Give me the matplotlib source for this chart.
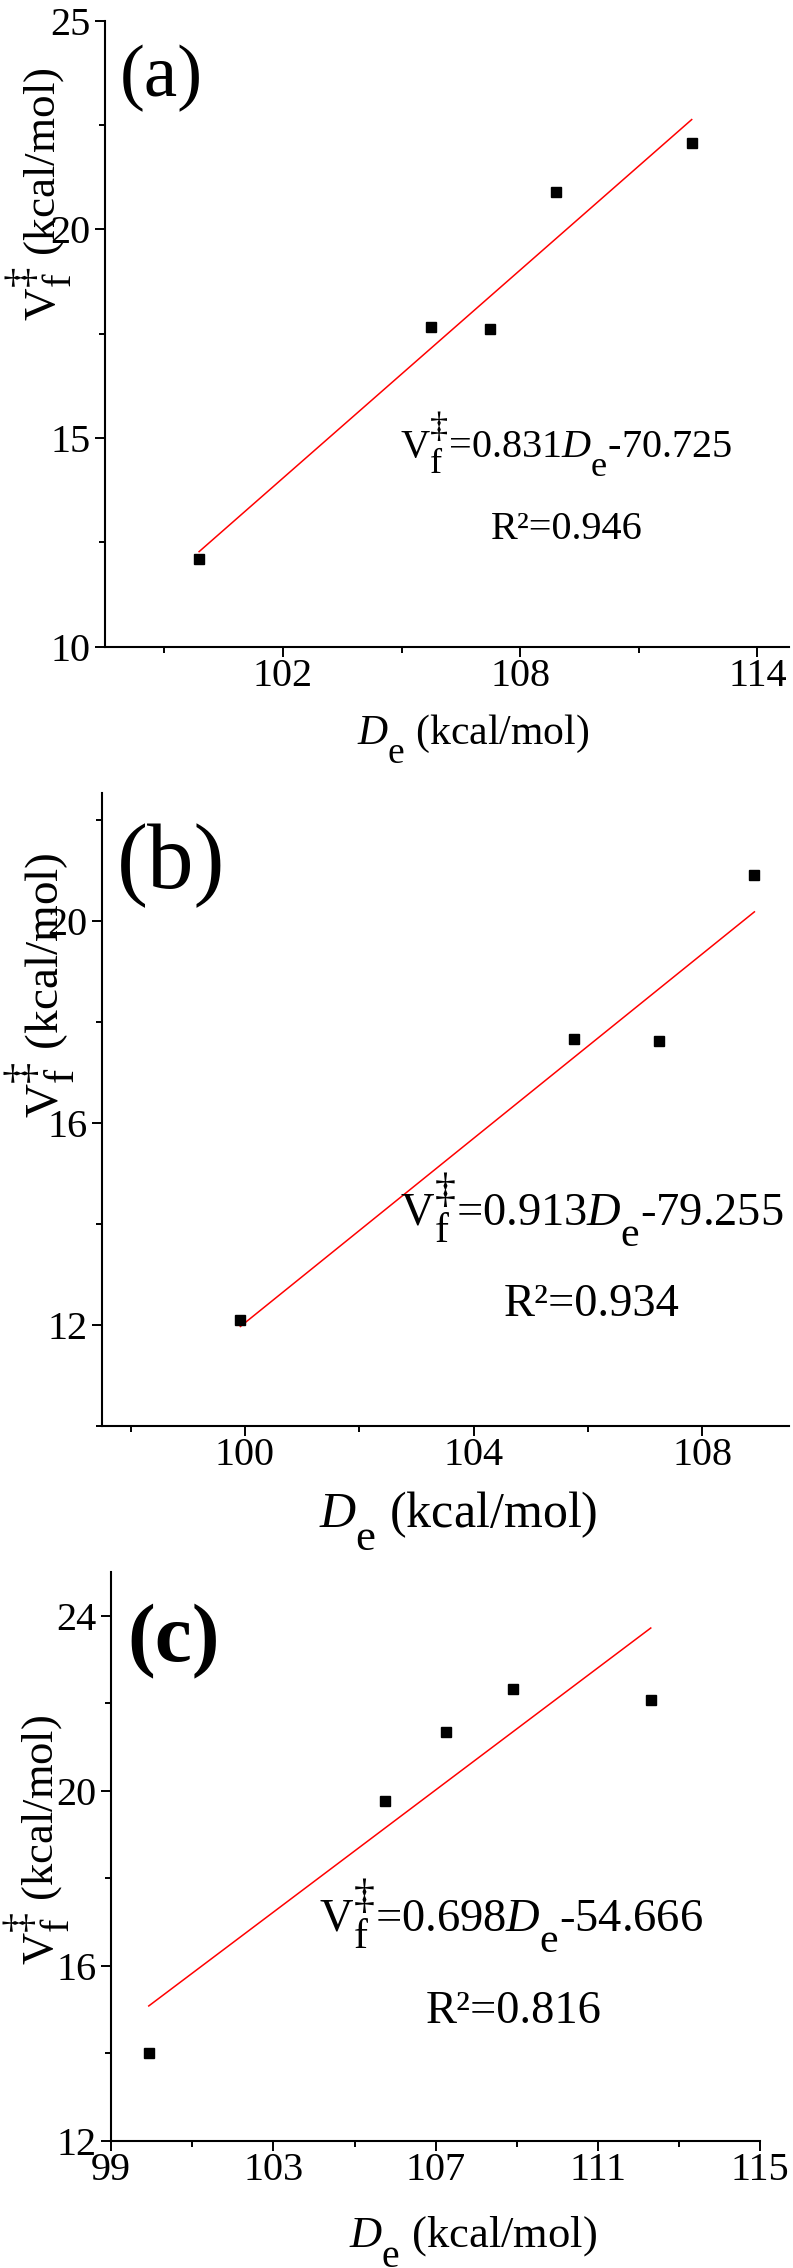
import matplotlib
matplotlib.use("Agg")
import matplotlib.pyplot as plt
from matplotlib.ticker import FixedLocator
import matplotlib._mathtext as _mt

# larger, lower sub/superscripts, closer to the reference typesetting
_mt.SHRINK_FACTOR = 0.9
_mt.FontConstantsBase.sub1 = 1.0
_mt.FontConstantsBase.sub2 = 0.8

plt.rcParams['font.family'] = ['Liberation Serif', 'DejaVu Serif']
plt.rcParams['mathtext.fontset'] = 'custom'
plt.rcParams['mathtext.rm'] = 'Liberation Serif'
plt.rcParams['mathtext.it'] = 'Liberation Serif:italic'
plt.rcParams['mathtext.bf'] = 'Liberation Serif:bold'

# ---------------- data ----------------
a_x = [99.88, 105.75, 107.24, 108.91, 112.34]
a_y = [12.09, 17.67, 17.61, 20.89, 22.07]
a_fit = (0.831, -70.725)
a_eq = r'$\mathrm{V}_\mathrm{f}^{\ddagger}$=0.831$D_\mathrm{e}$-70.725'
a_r2 = 'R²=0.946'
a_xticks = [102, 108, 114]
a_xminor = [99, 105, 111]
a_yticks = [10, 15, 20, 25]
a_yminor = [12.5, 17.5, 22.5]

b_x = [99.92, 105.75, 107.25, 108.91]
b_y = [12.10, 17.66, 17.63, 20.91]
b_fit = (0.913, -79.255)
b_eq = r'$\mathrm{V}_\mathrm{f}^{\ddagger}$=0.913$D_\mathrm{e}$-79.255'
b_r2 = 'R²=0.934'
b_xticks = [100, 104, 108]
b_xminor = [98, 102, 106]
b_yticks = [12, 16, 20]
b_yminor = [10, 14, 18, 22]

c_x = [99.93, 105.75, 107.25, 108.91, 112.30]
c_y = [14.02, 19.77, 21.34, 22.33, 22.07]
c_fit = (0.698, -54.666)
c_eq = r'$\mathrm{V}_\mathrm{f}^{\ddagger}$=0.698$D_\mathrm{e}$-54.666'
c_r2 = 'R²=0.816'
c_xticks = [99, 103, 107, 111, 115]
c_xminor = [101, 105, 109, 113]
c_yticks = [12, 16, 20, 24]
c_yminor = [14, 18, 22]

panel_labels = ['(a)', '(b)', '(c)']
xlabel_text = r'$D_\mathrm{e}$ (kcal/mol)'
ylabel_text = r'$\mathrm{V}_\mathrm{f}^{\ddagger}$ (kcal/mol)'

# ---------------- layout ----------------
fig = plt.figure(figsize=(7.93, 22.68), dpi=100)

panels = [
    dict(x=a_x, y=a_y, fit=a_fit, eq=a_eq, r2=a_r2, xt=a_xticks, xm=a_xminor,
         yt=a_yticks, ym=a_yminor, rect=[0.1324, 0.7149, 0.8625, 0.2760],
         xlim=(97.5, 114.8), ylim=(10, 25),
         eqpos=(109.17, 14.51), r2pos=(109.17, 12.59), eqsize=29,
         lab=(0.083, 0.908), labsize=54, labweight='normal',
         xl=(0.538, -0.105), xlsize=30, yl=(-0.096, 0.722), ylsize=32.5),
    dict(x=b_x, y=b_y, fit=b_fit, eq=b_eq, r2=b_r2, xt=b_xticks, xm=b_xminor,
         yt=b_yticks, ym=b_yminor, rect=[0.1286, 0.3712, 0.8667, 0.2791],
         xlim=(97.5, 109.52), ylim=(10, 22.53),
         eqpos=(106.07, 13.97), r2pos=(106.07, 12.17), eqsize=33.5,
         lab=(0.100, 0.885), labsize=67, labweight='normal',
         xl=(0.519, -0.100), xlsize=36, yl=(-0.090, 0.697), ylsize=34),
    dict(x=c_x, y=c_y, fit=c_fit, eq=c_eq, r2=c_r2, xt=c_xticks, xm=c_xminor,
         yt=c_yticks, ym=c_yminor, rect=[0.1400, 0.0560, 0.8188, 0.2509],
         xlim=(99, 115), ylim=(12, 25),
         eqpos=(108.85, 16.78), r2pos=(108.91, 14.70), eqsize=33.5,
         lab=(0.097, 0.8775), labsize=60, labweight='bold',
         xl=(0.557, -0.128), xlsize=32, yl=(-0.114, 0.529), ylsize=32),
]

for p, plab in zip(panels, panel_labels):
    ax = fig.add_axes(p['rect'])
    ax.set_xlim(*p['xlim'])
    ax.set_ylim(*p['ylim'])
    ax.plot(p['x'], p['y'], linestyle='none', marker='s', ms=7, color='black',
            zorder=3, clip_on=False)
    k, b0 = p['fit']
    xs = [min(p['x']), max(p['x'])]
    ax.plot(xs, [k * xs[0] + b0, k * xs[1] + b0], color='#ff0000', lw=1.1,
            zorder=2)

    for side in ['top', 'right']:
        ax.spines[side].set_visible(False)
    for side in ['left', 'bottom']:
        ax.spines[side].set_linewidth(1.5)

    ax.set_xticks(p['xt'])
    ax.set_xticklabels([str(v) for v in p['xt']])
    ax.set_yticks(p['yt'])
    ax.set_yticklabels([str(v) for v in p['yt']])
    ax.xaxis.set_minor_locator(FixedLocator(p['xm']))
    ax.yaxis.set_minor_locator(FixedLocator(p['ym']))
    ax.tick_params(which='major', direction='out', length=7.5, width=1.4,
                   labelsize=29)
    ax.tick_params(axis='x', which='major', pad=0.5)
    ax.tick_params(axis='y', which='major', pad=3)
    ax.tick_params(which='minor', direction='out', length=4, width=1.4)

    ax.text(p['eqpos'][0], p['eqpos'][1], p['eq'], ha='center', va='baseline',
            fontsize=p['eqsize'])
    ax.text(p['r2pos'][0], p['r2pos'][1], p['r2'], ha='center', va='baseline',
            fontsize=p['eqsize'])
    ax.text(p['lab'][0], p['lab'][1], plab, transform=ax.transAxes,
            ha='center', va='center', fontsize=p['labsize'],
            fontweight=p['labweight'])
    ax.text(p['xl'][0], p['xl'][1], xlabel_text, transform=ax.transAxes,
            ha='center', va='top', fontsize=p['xlsize'])
    ax.text(p['yl'][0], p['yl'][1], ylabel_text, transform=ax.transAxes,
            ha='center', va='center', rotation=90, fontsize=p['ylsize'])

fig.savefig('out.png', dpi=100)
